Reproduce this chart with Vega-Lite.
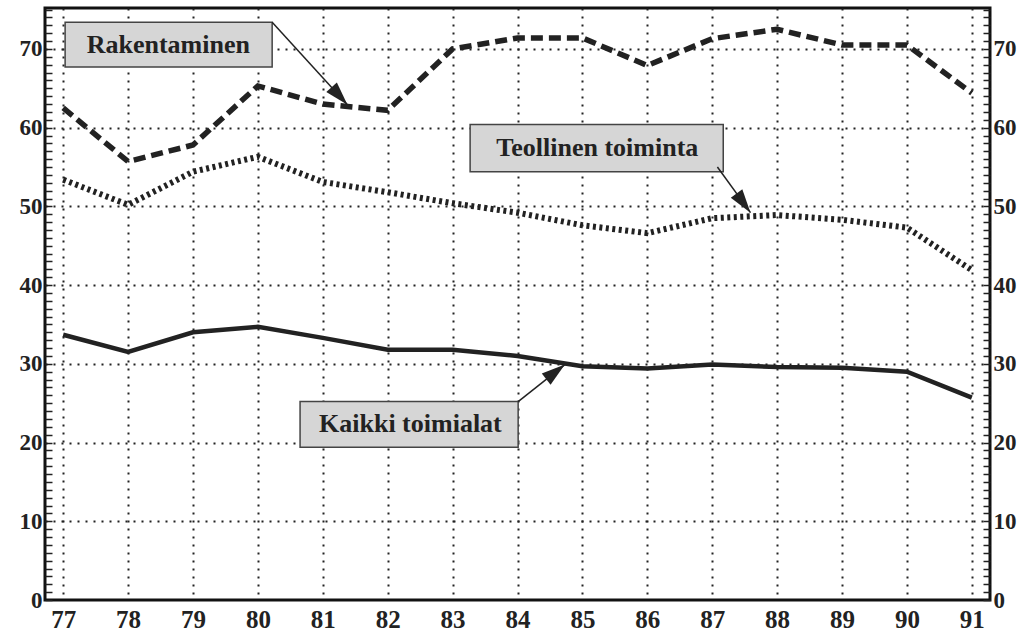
{
  "$schema": "https://vega.github.io/schema/vega-lite/v6.json",
  "width": 945,
  "height": 592,
  "autosize": {"type": "none"},
  "padding": {"left": 45, "top": 8, "right": 39, "bottom": 35},
  "background": "white",
  "view": {"stroke": "#111", "strokeWidth": 3},
  "config": {
    "font": "Liberation Serif",
    "axis": {"labelFont": "Liberation Serif", "labelFontWeight": "bold", "labelFontSize": 23, "labelColor": "#222"}
  },
  "datasets": {
    "series": [
      {"year": 77, "series": "Rakentaminen", "value": 62.5},
      {"year": 78, "series": "Rakentaminen", "value": 55.7},
      {"year": 79, "series": "Rakentaminen", "value": 57.8},
      {"year": 80, "series": "Rakentaminen", "value": 65.3},
      {"year": 81, "series": "Rakentaminen", "value": 63.0},
      {"year": 82, "series": "Rakentaminen", "value": 62.2},
      {"year": 83, "series": "Rakentaminen", "value": 70.0},
      {"year": 84, "series": "Rakentaminen", "value": 71.4},
      {"year": 85, "series": "Rakentaminen", "value": 71.4},
      {"year": 86, "series": "Rakentaminen", "value": 67.9},
      {"year": 87, "series": "Rakentaminen", "value": 71.3},
      {"year": 88, "series": "Rakentaminen", "value": 72.5},
      {"year": 89, "series": "Rakentaminen", "value": 70.5},
      {"year": 90, "series": "Rakentaminen", "value": 70.5},
      {"year": 91, "series": "Rakentaminen", "value": 64.4},
      {"year": 77, "series": "Teollinen toiminta", "value": 53.4},
      {"year": 78, "series": "Teollinen toiminta", "value": 50.2},
      {"year": 79, "series": "Teollinen toiminta", "value": 54.4},
      {"year": 80, "series": "Teollinen toiminta", "value": 56.3},
      {"year": 81, "series": "Teollinen toiminta", "value": 53.1},
      {"year": 82, "series": "Teollinen toiminta", "value": 51.8},
      {"year": 83, "series": "Teollinen toiminta", "value": 50.4},
      {"year": 84, "series": "Teollinen toiminta", "value": 49.2},
      {"year": 85, "series": "Teollinen toiminta", "value": 47.6},
      {"year": 86, "series": "Teollinen toiminta", "value": 46.6},
      {"year": 87, "series": "Teollinen toiminta", "value": 48.5},
      {"year": 88, "series": "Teollinen toiminta", "value": 48.9},
      {"year": 89, "series": "Teollinen toiminta", "value": 48.3},
      {"year": 90, "series": "Teollinen toiminta", "value": 47.3},
      {"year": 91, "series": "Teollinen toiminta", "value": 41.9},
      {"year": 77, "series": "Kaikki toimialat", "value": 33.7},
      {"year": 78, "series": "Kaikki toimialat", "value": 31.5},
      {"year": 79, "series": "Kaikki toimialat", "value": 34.0},
      {"year": 80, "series": "Kaikki toimialat", "value": 34.7},
      {"year": 81, "series": "Kaikki toimialat", "value": 33.3},
      {"year": 82, "series": "Kaikki toimialat", "value": 31.8},
      {"year": 83, "series": "Kaikki toimialat", "value": 31.8},
      {"year": 84, "series": "Kaikki toimialat", "value": 31.0},
      {"year": 85, "series": "Kaikki toimialat", "value": 29.7},
      {"year": 86, "series": "Kaikki toimialat", "value": 29.4},
      {"year": 87, "series": "Kaikki toimialat", "value": 29.9},
      {"year": 88, "series": "Kaikki toimialat", "value": 29.6},
      {"year": 89, "series": "Kaikki toimialat", "value": 29.5},
      {"year": 90, "series": "Kaikki toimialat", "value": 29.0},
      {"year": 91, "series": "Kaikki toimialat", "value": 25.7}
    ],
    "labels": [
      {"label": "Rakentaminen", "x1": 77.03, "x2": 80.22, "y1": 67.7, "y2": 73.4, "tx": 78.62, "ty": 70.5, "ax": 80.22, "ay": 73.4, "bx": 81.38, "by": 62.9},
      {"label": "Teollinen toiminta", "x1": 83.27, "x2": 87.17, "y1": 54.4, "y2": 60.4, "tx": 85.23, "ty": 57.4, "ax": 87.08, "ay": 55.0, "bx": 87.59, "by": 49.2},
      {"label": "Kaikki toimialat", "x1": 80.65, "x2": 84.01, "y1": 19.4, "y2": 25.2, "tx": 82.35, "ty": 22.3, "ax": 84.01, "ay": 25.2, "bx": 84.73, "by": 29.9}
    ]
  },
  "resolve": {"scale": {"y": "shared", "x": "shared"}, "axis": {"y": "independent"}},
  "layer": [
    {
      "data": {"name": "series"},
      "transform": [{"filter": "datum.series === 'Rakentaminen'"}],
      "mark": {"type": "line", "color": "#222", "strokeWidth": 5.5, "strokeDash": [12, 6]},
      "encoding": {
        "x": {"field": "year", "type": "quantitative", "scale": {"domain": [76.72, 91.28], "nice": false, "zero": false},
          "axis": {"values": [77, 78, 79, 80, 81, 82, 83, 84, 85, 86, 87, 88, 89, 90, 91], "format": "d", "labelFontSize": 25, "title": null, "domain": false, "ticks": false, "labelPadding": 7,
            "grid": true, "gridColor": "#222", "gridWidth": 2, "gridDash": [2, 6]}},
        "y": {"field": "value", "type": "quantitative", "scale": {"domain": [0, 75.2], "nice": false},
          "axis": {"orient": "left", "title": null, "domain": false,
            "values": [0,1,2,3,4,5,6,7,8,9,10,11,12,13,14,15,16,17,18,19,20,21,22,23,24,25,26,27,28,29,30,31,32,33,34,35,36,37,38,39,40,41,42,43,44,45,46,47,48,49,50,51,52,53,54,55,56,57,58,59,60,61,62,63,64,65,66,67,68,69,70,71,72,73,74,75],
            "labelExpr": "datum.value % 10 === 0 ? datum.label : ''",
            "ticks": true, "tickSize": -7, "tickColor": "#222", "tickWidth": 1.5, "labelPadding": 10,
            "grid": true, "gridColor": "#222", "gridWidth": 2, "gridDash": [2, 6],
            "gridOpacity": {"condition": {"test": "datum.value % 10 === 0 && datum.value > 0", "value": 1}, "value": 0}}}
      }
    },
    {
      "data": {"name": "series"},
      "transform": [{"filter": "datum.series === 'Teollinen toiminta'"}],
      "mark": {"type": "line", "color": "#222", "strokeWidth": 6, "strokeDash": [3, 3.5]},
      "encoding": {
        "x": {"field": "year", "type": "quantitative"},
        "y": {"field": "value", "type": "quantitative",
          "axis": {"orient": "right", "title": null, "domain": false,
            "values": [0,1,2,3,4,5,6,7,8,9,10,11,12,13,14,15,16,17,18,19,20,21,22,23,24,25,26,27,28,29,30,31,32,33,34,35,36,37,38,39,40,41,42,43,44,45,46,47,48,49,50,51,52,53,54,55,56,57,58,59,60,61,62,63,64,65,66,67,68,69,70,71,72,73,74,75],
            "labelExpr": "datum.value % 10 === 0 ? datum.label : ''",
            "ticks": true, "tickSize": -7, "tickColor": "#222", "tickWidth": 1.5, "labelPadding": 10, "grid": false}}
      }
    },
    {
      "data": {"name": "series"},
      "transform": [{"filter": "datum.series === 'Kaikki toimialat'"}],
      "mark": {"type": "line", "color": "#222", "strokeWidth": 4.5},
      "encoding": {
        "x": {"field": "year", "type": "quantitative"},
        "y": {"field": "value", "type": "quantitative", "axis": null}
      }
    },
    {
      "data": {"name": "labels"},
      "mark": {"type": "rect", "fill": "#d6d6d6", "stroke": "#444", "strokeWidth": 1.5},
      "encoding": {
        "x": {"field": "x1", "type": "quantitative"},
        "x2": {"field": "x2"},
        "y": {"field": "y1", "type": "quantitative", "axis": null},
        "y2": {"field": "y2"}
      }
    },
    {
      "data": {"name": "labels"},
      "mark": {"type": "text", "font": "Liberation Serif", "fontWeight": "bold", "fontSize": 26, "color": "#222", "align": "center", "baseline": "middle"},
      "encoding": {
        "x": {"field": "tx", "type": "quantitative"},
        "y": {"field": "ty", "type": "quantitative", "axis": null},
        "text": {"field": "label"}
      }
    },
    {
      "data": {"name": "labels"},
      "mark": {"type": "rule", "color": "#222", "strokeWidth": 1.5},
      "encoding": {
        "x": {"field": "ax", "type": "quantitative"},
        "x2": {"field": "bx"},
        "y": {"field": "ay", "type": "quantitative", "axis": null},
        "y2": {"field": "by"}
      }
    },
    {
      "data": {"name": "labels"},
      "transform": [{"filter": "datum.label === 'Rakentaminen'"}],
      "mark": {"type": "point", "shape": "M0,0L-0.45,1.5L0.45,1.5Z", "filled": true, "color": "#222", "size": 1000, "angle": 138, "opacity": 1},
      "encoding": {
        "x": {"field": "bx", "type": "quantitative"},
        "y": {"field": "by", "type": "quantitative", "axis": null}
      }
    },
    {
      "data": {"name": "labels"},
      "transform": [{"filter": "datum.label === 'Teollinen toiminta'"}],
      "mark": {"type": "point", "shape": "M0,0L-0.45,1.5L0.45,1.5Z", "filled": true, "color": "#222", "size": 1000, "angle": 144, "opacity": 1},
      "encoding": {
        "x": {"field": "bx", "type": "quantitative"},
        "y": {"field": "by", "type": "quantitative", "axis": null}
      }
    },
    {
      "data": {"name": "labels"},
      "transform": [{"filter": "datum.label === 'Kaikki toimialat'"}],
      "mark": {"type": "point", "shape": "M0,0L-0.45,1.5L0.45,1.5Z", "filled": true, "color": "#222", "size": 1000, "angle": 52, "opacity": 1},
      "encoding": {
        "x": {"field": "bx", "type": "quantitative"},
        "y": {"field": "by", "type": "quantitative", "axis": null}
      }
    }
  ]
}
